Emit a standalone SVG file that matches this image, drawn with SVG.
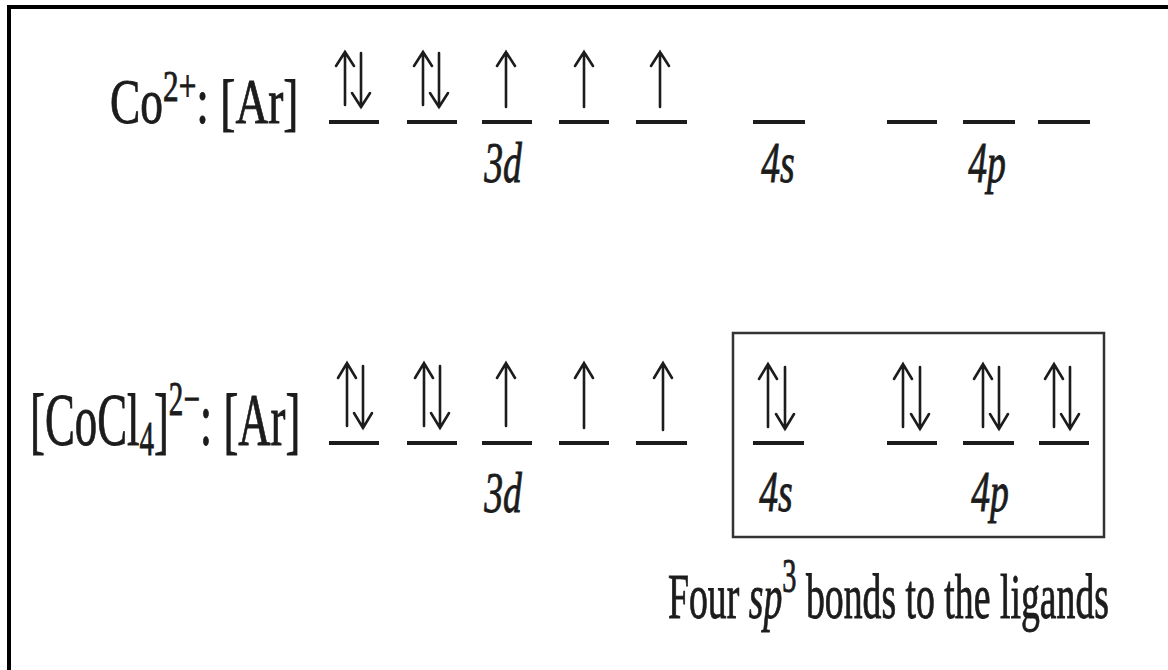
<svg xmlns="http://www.w3.org/2000/svg" width="1168" height="670" viewBox="0 0 1168 670">
<style>
.t{font-family:"Liberation Serif","DejaVu Serif",serif;fill:#1c1c1c;stroke:#1c1c1c;stroke-width:0.9}
.i{font-style:italic}
.orb{stroke:#1c1c1c;stroke-width:4;fill:none}
.arr{stroke:#1c1c1c;stroke-width:2.6;fill:none;stroke-linecap:round;stroke-linejoin:miter}
</style>
<rect width="1168" height="670" fill="#fff"/>
<path d="M9,670 V7 H1168" fill="none" stroke="#000" stroke-width="4"/>

<g id="row1">
  <g id="row1-label" transform="translate(110,123) scale(0.71,1)">
    <text class="t" font-size="64">Co<tspan font-size="44" dy="-22">2+</tspan><tspan dy="22">: [Ar]</tspan></text>
  </g>
  <g id="row1-orbitals" class="orb">
    <path d="M329,122H379 M407,122H457 M482,122H532 M559,122H609 M636,122H687 M753,122H805 M887,122H937 M963,122H1015 M1038,122H1090"/>
  </g>
  <g id="row1-electrons" class="arr">
    <path d="M345,105V52 M336,66L345,52L354,66 M361,53V107 M352,93L361,107L370,93"/>
    <path d="M423,105V52 M414,66L423,52L432,66 M439,53V107 M430,93L439,107L448,93"/>
    <path d="M506,107V52 M497,66L506,52L515,66"/>
    <path d="M584,107V52 M575,66L584,52L593,66"/>
    <path d="M660,107V52 M651,66L660,52L669,66"/>
  </g>
  <g transform="translate(503,182) scale(0.65,1)"><text class="t i" font-size="58" text-anchor="middle">3d</text></g>
  <g transform="translate(778,182) scale(0.65,1)"><text class="t i" font-size="58" text-anchor="middle">4s</text></g>
  <g transform="translate(987,182) scale(0.65,1)"><text class="t i" font-size="58" text-anchor="middle">4p</text></g>
</g>

<g id="row2">
  <g id="row2-label" transform="translate(30,445) scale(0.605,1)">
    <text class="t" font-size="74">[CoCl<tspan font-size="48" dy="10">4</tspan><tspan dy="-10">]</tspan><tspan font-size="48" dy="-30">2−</tspan><tspan dy="30">: [Ar]</tspan></text>
  </g>
  <g id="row2-orbitals" class="orb">
    <path d="M329,443H379 M407,443H457 M482,443H532 M559,443H609 M636,443H687 M753,443H804 M887,443H937 M963,443H1014 M1039,443H1089"/>
  </g>
  <g id="row2-electrons" class="arr">
    <path d="M347,426V363 M338,378L347,363L356,378 M363,366V428 M354,413L363,428L372,413"/>
    <path d="M424,426V363 M415,378L424,363L433,378 M440,366V428 M431,413L440,428L449,413"/>
    <path d="M506,426V363 M497,378L506,363L515,378"/>
    <path d="M584,428V363 M575,378L584,363L593,378"/>
    <path d="M663,430V363 M654,378L663,363L672,378"/>
    <path d="M768,427V364 M759,379L768,364L777,379 M785,367V429 M776,414L785,429L794,414"/>
    <path d="M903,427V364 M894,379L903,364L912,379 M920,367V429 M911,414L920,429L929,414"/>
    <path d="M983,427V364 M974,379L983,364L992,379 M999,367V429 M990,414L999,429L1008,414"/>
    <path d="M1054,427V364 M1045,379L1054,364L1063,379 M1070,367V429 M1061,414L1070,429L1079,414"/>
  </g>
  <g transform="translate(503,512) scale(0.65,1)"><text class="t i" font-size="58" text-anchor="middle">3d</text></g>
  <g id="hybrid-box">
    <rect x="733" y="333" width="371" height="204" fill="none" stroke="#333" stroke-width="2.5"/>
    <g transform="translate(776,511) scale(0.65,1)"><text class="t i" font-size="58" text-anchor="middle">4s</text></g>
    <g transform="translate(990,511) scale(0.65,1)"><text class="t i" font-size="58" text-anchor="middle">4p</text></g>
  </g>
</g>

<g id="caption" transform="translate(668,618) scale(0.59,1)">
  <text class="t" font-size="64" fill="#2a2a2a">Four <tspan class="i">sp</tspan><tspan font-size="48" dy="-26">3</tspan><tspan dy="26"> bonds to the ligands</tspan></text>
</g>
</svg>
